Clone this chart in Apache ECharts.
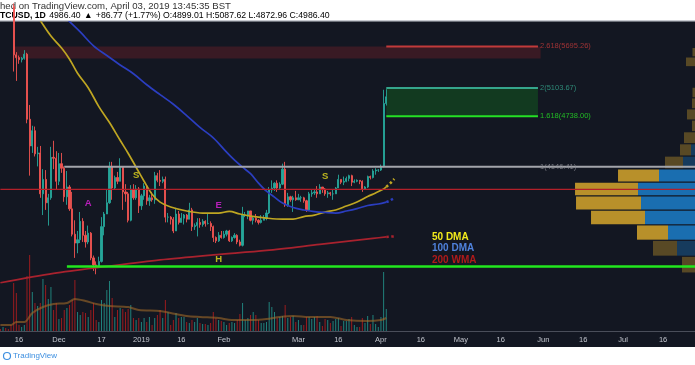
<!DOCTYPE html>
<html><head><meta charset="utf-8">
<script src="https://cdn.jsdelivr.net/npm/echarts@6/dist/echarts.min.js"></script>
<style>html,body{margin:0;padding:0;background:#fff}#c{width:695px;height:365px}</style>
</head><body><div id="c"></div>
<script>
// ---------- DATA ----------
const firstDay = '2018-11-09';
const dayCount = 262; // Nov 9 2018 .. Jul 28 2019
// daily candles from Nov 9 2018: [open, close, low, high]
const ohlc = [
[6410,6350,6310,6440],[6350,6385,6340,6400],[6385,6370,6330,6400],[6370,6360,6330,6410],[6360,6330,6300,6380],
[6330,5570,5330,6380],[5570,5530,5200,5610],[5530,5500,5440,5560],[5500,5520,5460,5540],[5520,5580,5500,5640],
[5580,4700,4650,5600],[4700,4380,4050,4880],[4380,4560,4300,4620],[4560,4290,4260,4610],[4290,4300,4150,4370],
[4300,3860,3820,4380],[3860,4010,3650,4120],[4010,3770,3700,4110],[3770,3820,3550,3860],[3820,4250,3800,4370],
[4250,4240,4120,4440],[4240,3990,3900,4320],[3990,4180,3950,4300],[4180,4130,4080,4300],[4130,3830,3780,4150],
[3830,3930,3750,4100],[3930,3710,3690,3950],[3710,3470,3450,3880],[3470,3390,3260,3600],[3390,3420,3300,3500],
[3420,3590,3390,3680],[3590,3460,3400,3620],[3460,3400,3350,3500],[3400,3480,3380,3550],[3480,3260,3240,3490],
[3260,3200,3150,3280],[3200,3180,3122,3230],[3180,3230,3180,3270],[3230,3540,3220,3630],[3540,3660,3460,3680],
[3660,3770,3660,3900],[3770,4150,3760,4200],[4150,3920,3800,4200],[3920,4030,3900,4050],[4030,3990,3960,4090],
[3990,4140,3990,4240],[4140,3880,3700,4140],[3880,3860,3780,3960],[3860,3600,3580,3880],[3600,3900,3590,3950],
[3900,3820,3800,3960],[3820,3910,3800,3950],[3910,3740,3670,3930],[3740,3840,3700,3860],[3840,3940,3800,3970],
[3940,3790,3750,3950],[3790,3820,3740,3850],[3820,3800,3780,3880],[3800,4050,3760,4090],[4050,4000,3980,4080],
[4000,3990,3940,4110],[3990,4010,3970,4040],[4010,3630,3580,4040],[3630,3630,3580,3670],[3630,3610,3560,3640],
[3610,3500,3480,3630],[3500,3660,3500,3720],[3660,3580,3560,3690],[3580,3620,3580,3670],[3620,3650,3560,3660],
[3650,3610,3580,3660],[3610,3700,3610,3770],[3700,3540,3500,3720],[3540,3550,3510,3570],[3550,3580,3450,3620],
[3580,3560,3530,3620],[3560,3590,3540,3610],[3590,3570,3540,3600],[3570,3570,3560,3660],[3570,3540,3500,3590],
[3540,3440,3400,3550],[3440,3410,3390,3450],[3410,3460,3400,3490],[3460,3440,3430,3500],[3440,3470,3430,3500],
[3470,3500,3450,3510],[3500,3410,3400,3510],[3410,3440,3400,3450],[3440,3460,3430,3480],[3460,3400,3380,3470],
[3400,3370,3360,3420],[3370,3650,3360,3730],[3650,3650,3630,3680],[3650,3690,3610,3690],[3690,3600,3590,3690],
[3600,3620,3560,3640],[3620,3600,3580,3660],[3600,3580,3560,3610],[3580,3600,3570,3650],[3600,3620,3600,3650],
[3620,3670,3600,3700],[3670,3900,3660,3930],[3900,3920,3870,4000],[3920,3970,3890,3980],[3970,3920,3880,4000],
[3920,3960,3910,3980],[3960,4120,3950,4180],[4120,3750,3730,4200],[3750,3830,3730,3870],[3830,3800,3780,3840],
[3800,3820,3680,3840],[3820,3800,3790,3890],[3800,3820,3800,3860],[3820,3820,3780,3840],[3820,3790,3770,3830],
[3790,3700,3680,3800],[3700,3860,3690,3880],[3860,3870,3830,3900],[3870,3880,3850,3910],[3880,3860,3820,3940],
[3860,3930,3860,3960],[3930,3910,3870,3930],[3910,3860,3840,3920],[3860,3870,3820,3890],[3870,3860,3840,3880],
[3860,3860,3800,3900],[3860,3920,3860,3930],[3920,4010,3920,4060],[4010,3980,3960,4010],[3980,3990,3950,4040],
[3990,4020,3980,4040],[4020,4050,3990,4060],[4050,3980,3940,4060],[3980,3990,3970,4010],[3990,4000,3980,4010],
[4000,3990,3960,4000],[3990,3910,3880,4000],[3910,3930,3900,3940],[3930,4040,3920,4050],[4040,4030,4010,4050],
[4030,4100,4020,4120],[4100,4110,4060,4130],[4110,4110,4090,4120],[4110,4150,4100,4170],[4150,4900,4140,5080],
[4899.01,4986.40,4872.96,5087.62]
];
// daily volume (thousands), same days as ohlc
const volume = [2,4,3,2,6,48,38,6,4,6,55,76,39,28,25,28,52,46,32,44,21,28,12,13,21,23,26,31,51,19,16,19,18,14,21,28,11,9,31,28,41,50,33,14,21,23,22,19,22,26,13,11,13,9,13,9,14,6,13,16,21,13,31,19,6,11,18,13,14,14,9,8,11,9,13,8,7,7,6,8,19,13,11,10,9,6,8,9,8,11,17,28,11,13,16,19,16,11,8,8,9,29,24,19,13,14,15,26,13,14,15,9,11,6,6,14,14,12,14,15,9,5,12,11,8,10,12,13,5,10,10,12,14,6,4,4,13,8,15,7,16,7,4,14,59,22];
const volumeMA = [[0,6],[4,6],[6,9],[9,9],[12,18],[16,24],[20,27],[25,28],[28,32],[32,30],[36,27],[41,25],[48,24],[52,21],[60,20],[64,18],[70,15],[75,14],[82,13],[87,11],[95,11],[100,12],[105,14],[110,15],[116,14],[124,14],[130,11],[138,10],[143,11],[145,13]];
const ma50 = [['2018-11-18',6420],['2018-11-21',6294],['2018-11-24',6098],['2018-11-28',5854],['2018-12-02',5672],['2018-12-05',5507],['2018-12-08',5307],['2018-12-12',5108],['2018-12-16',4859],['2018-12-20',4659],['2018-12-24',4446],['2018-12-27',4297],['2018-12-30',4141],['2019-01-02',3991],['2019-01-05',3857],['2019-01-08',3777],['2019-01-12',3728],['2019-01-18',3689],['2019-01-24',3669],['2019-01-30',3669],['2019-02-03',3685],['2019-02-07',3660],['2019-02-11',3640],['2019-02-17',3621],['2019-02-23',3611],['2019-02-27',3611],['2019-03-03',3635],['2019-03-07',3650],['2019-03-11',3679],['2019-03-15',3699],['2019-03-19',3738],['2019-03-23',3777],['2019-03-27',3833],['2019-03-30',3869],['2019-04-02',3910],['2019-04-03',3931]];
const ma50Proj = [['2019-04-03',3931],['2019-04-04',3957],['2019-04-05',3983],['2019-04-06',4015]];
const ma100 = [['2018-11-27',6420],['2018-12-01',6252],['2018-12-05',6080],['2018-12-09',5917],['2018-12-14',5705],['2018-12-19',5561],['2018-12-24',5424],['2018-12-29',5300],['2019-01-03',5148],['2019-01-08',5015],['2019-01-13',4890],['2019-01-18',4746],['2019-01-23',4599],['2019-01-28',4475],['2019-02-02',4309],['2019-02-05',4218],['2019-02-08',4141],['2019-02-11',4071],['2019-02-14',3971],['2019-02-17',3887],['2019-02-20',3827],['2019-02-23',3767],['2019-02-27',3723],['2019-03-03',3699],['2019-03-07',3684],['2019-03-11',3675],['2019-03-15',3669],['2019-03-19',3689],['2019-03-23',3713],['2019-03-27',3743],['2019-03-31',3758],['2019-04-03',3777]];
const ma100Proj = [['2019-04-03',3777],['2019-04-04',3787],['2019-04-06',3817]];
const wma200 = [['2018-11-09',3053],['2018-11-29',3130],['2018-12-19',3188],['2019-01-08',3243],['2019-01-28',3286],['2019-02-17',3325],['2019-03-09',3378],['2019-03-29',3432],['2019-04-03',3445]];
const wma200Proj = [['2019-04-03',3445],['2019-04-06',3450]];
// horizontal levels [from, to, price]
const resistanceLevel = ['2018-11-09','2019-07-28',3906];
const supportLevel = ['2018-12-04','2019-07-28',3187];
const fibStart = '2019-04-03', fibEnd = '2019-05-30';
const fibLevels = [['2.618',5695.26,'#c23a3a'],['2',5103.67,'#35a58c'],['1.618',4738.00,'#25e025'],['1',4146.41,'#8d8f96']];
const redZone = ['2018-11-14','2019-05-31',5695.26,5518];
const greenZone = ['2019-04-03','2019-05-30',5103.67,4738.00];
// volume profile rows [priceLow, priceHigh, totalVol, upVol, inValueArea]
const profile = [
[3132,3274,13,0,0],[3274,3415,42,18,0],[3415,3557,58,27,1],[3557,3698,104,50,1],[3698,3840,119,54,1],
[3840,3982,120,57,1],[3982,4123,77,36,1],[4123,4265,30,12,0],[4265,4406,15,4,0],[4406,4548,11,0,0],
[4548,4690,3,0,0],[4690,4831,8,0,0],[4831,4973,3,0,0],[4973,5115,2.5,0,0],[5398,5540,9,0,0],[5540,5681,2.5,0,0]
];
const annotations = [['2018-12-12',3767,'A','#e020e0'],['2018-12-30',4054,'S','#e6dc1e'],['2019-01-30',3747,'E','#e020e0'],['2019-01-30',3243,'H','#e6dc1e'],['2019-03-11',4047,'S','#e6dc1e']];
const tickLabels = {'2018-11-16':'16','2018-12-01':'Dec','2018-12-17':'17','2019-01-01':'2019','2019-01-16':'16','2019-02-01':'Feb','2019-03-01':'Mar','2019-03-16':'16','2019-04-01':'Apr','2019-04-16':'16','2019-05-01':'May','2019-05-16':'16','2019-06-01':'Jun','2019-06-16':'16','2019-07-01':'Jul','2019-07-16':'16'};
const legendItems = [['50 DMA','#f2ea1c'],['100 DMA','#4f82dc'],['200 WMA','#b01a1a']];
const headerLine1 = 'hed on TradingView.com, April 03, 2019 13:45:35 BST';
const quote = {sym:'TCUSD, 1D', last:'4986.40', chg:'+86.77 (+1.77%)', o:'4899.01', h:'5087.62', l:'4872.96', c:'4986.40'};

// ---------- BUILD ----------
const days = [];
{ const t0 = Date.parse(firstDay + 'T00:00:00Z');
  for (let i = 0; i < dayCount; i++) days.push(new Date(t0 + i * 864e5).toISOString().slice(0, 10)); }
const UP = '#26a69a', DOWN = '#ef5350';
const volData = volume.map((v, i) => ({value: v, itemStyle: {color: ohlc[i][1] >= ohlc[i][0] ? 'rgba(38,166,154,0.75)' : 'rgba(200,30,30,0.75)'}}));
const FONT = 'Liberation Sans, Arial, sans-serif';

function hline(a, b, p, color, width, z) {
  return {type: 'line', data: [[a, p], [b, p]], symbol: 'none', silent: true, z: z || 4,
    lineStyle: {color: color, width: width}, animation: false};
}

const series = [
  {type: 'bar', xAxisIndex: 0, yAxisIndex: 1, data: volData, barWidth: 1, silent: true, z: 1},
  {type: 'line', xAxisIndex: 0, yAxisIndex: 1, data: volumeMA.map(d => [days[d[0]], d[1]]), symbol: 'none', smooth: 0.3,
    lineStyle: {color: 'rgba(160,105,40,0.6)', width: 2}, silent: true, z: 1},
  {type: 'line', data: [], markArea: {silent: true, data: [
      [{coord: [redZone[0], redZone[2]], itemStyle: {color: '#391a24'}}, {coord: [redZone[1], redZone[3]]}],
      [{coord: [greenZone[0], greenZone[2]], itemStyle: {color: '#123a20'}}, {coord: [greenZone[1], greenZone[3]]}]
    ]}, z: 0},
  {type: 'custom', xAxisIndex: 1, yAxisIndex: 0, data: profile, silent: true, z: 2,
    renderItem: function (params, api) {
      const lo = api.value(0), hi = api.value(1), tot = api.value(2), up = api.value(3), va = api.value(4);
      const a = api.coord([0, hi]), b = api.coord([tot, lo]), c = api.coord([up, lo]);
      const y0 = a[1] + 0.6, h = b[1] - a[1] - 1.2, op = va ? 1 : 0.42;
      return {type: 'group', children: [
        {type: 'rect', shape: {x: b[0], y: y0, width: c[0] - b[0], height: h}, style: {fill: '#b8902a', opacity: op}},
        {type: 'rect', shape: {x: c[0], y: y0, width: a[0] - c[0], height: h}, style: {fill: '#1a6eb0', opacity: op}}
      ]};
    }},
  {type: 'candlestick', data: ohlc, barWidth: 1.7, silent: true, z: 3,
    itemStyle: {color: UP, color0: DOWN, borderColor: UP, borderColor0: DOWN, borderWidth: 0.9}},
  {type: 'line', data: ma50, symbol: 'none', smooth: 0.35, lineStyle: {color: '#bfa622', width: 1.7}, silent: true, z: 4},
  {type: 'line', data: ma50Proj, symbol: 'none', lineStyle: {color: '#bfa622', width: 2.5, type: 'dotted'}, silent: true, z: 4},
  {type: 'line', data: ma100, symbol: 'none', smooth: 0.35, lineStyle: {color: '#2b3ec0', width: 1.7}, silent: true, z: 4},
  {type: 'line', data: ma100Proj, symbol: 'none', lineStyle: {color: '#2b3ec0', width: 2.5, type: 'dotted'}, silent: true, z: 4},
  {type: 'line', data: wma200, symbol: 'none', smooth: 0.3, lineStyle: {color: '#a8222e', width: 1.7}, silent: true, z: 4},
  {type: 'line', data: wma200Proj, symbol: 'none', lineStyle: {color: '#a8222e', width: 2.5, type: 'dotted'}, silent: true, z: 4},
  hline(resistanceLevel[0], resistanceLevel[1], resistanceLevel[2], '#b3202a', 1.3),
  hline(supportLevel[0], supportLevel[1], supportLevel[2], '#22e81e', 2.6),
  hline('2018-12-03', '2019-07-28', fibLevels[3][1], '#a3a5ab', 2),
  hline(fibStart, fibEnd, fibLevels[0][1], fibLevels[0][2], 2),
  hline(fibStart, fibEnd, fibLevels[1][1], fibLevels[1][2], 2),
  hline(fibStart, fibEnd, fibLevels[2][1], fibLevels[2][2], 2),
  {type: 'scatter', symbolSize: 0, silent: true, z: 6,
    data: fibLevels.map(f => ({value: [fibEnd, f[1]], label: {color: f[2]}, name: f[0] + '(' + f[1].toFixed(2) + ')'})),
    label: {show: true, position: 'right', distance: 2, formatter: p => p.name, fontSize: 7.5, fontFamily: FONT}},
  {type: 'scatter', symbolSize: 0, silent: true, z: 6,
    data: annotations.map(a => ({value: [a[0], a[1]], name: a[2], label: {color: a[3]}})),
    label: {show: true, position: 'inside', formatter: p => p.name, fontSize: 9.5, fontWeight: 'bold', fontFamily: FONT}}
];

const richHdr = {
  k: {color: '#222', fontSize: 8.7, fontFamily: FONT},
  b: {color: '#111', fontSize: 8.7, fontWeight: 'bold', fontFamily: FONT},
  g: {color: '#3aae4a', fontSize: 8.7, fontFamily: FONT}
};
const line2 = '{b|' + quote.sym + '} {k|' + quote.last + '} {g|▲} {k|' + quote.chg + ' O:}{g|' + quote.o + '}{k| H:}{g|' + quote.h +
  '}{k| L:}{g|' + quote.l + '}{k| C:}{g|' + quote.c + '}';

const graphics = [
  {type: 'rect', shape: {x: 0, y: 21, width: 695, height: 326}, style: {fill: '#131722'}, z: -10, silent: true},
  {type: 'rect', shape: {x: 0, y: 20, width: 695, height: 1.5}, style: {fill: '#c8cbd2'}, z: -9, silent: true},
  {type: 'text', x: 0, y: 6.5, style: {text: headerLine1, fill: '#333', fontSize: 9.6, fontFamily: FONT, verticalAlign: 'middle'}, silent: true},
  {type: 'text', x: 0, y: 15.5, style: {text: line2, rich: richHdr, verticalAlign: 'middle'}, silent: true},
  {type: 'text', x: 13, y: 356, style: {text: 'TradingView', fill: '#3d8fe0', fontSize: 8, fontFamily: FONT, verticalAlign: 'middle'}, silent: true},
  {type: 'circle', shape: {cx: 7, cy: 356, r: 3.5}, style: {fill: 'none', stroke: '#3d8fe0', lineWidth: 1.2}, silent: true}
];
legendItems.forEach((l, i) => graphics.push({type: 'text', x: 432, y: 237 + i * 11.7,
  style: {text: l[0], fill: l[1], fontSize: 10, fontWeight: 'bold', fontFamily: FONT, verticalAlign: 'middle'}, silent: true, z: 10}));

const chart = echarts.init(document.getElementById('c'), null, {renderer: 'canvas'});
chart.setOption({
  animation: false,
  backgroundColor: '#ffffff',
  grid: {left: 0.37, top: 22, width: 694.78, height: 309, containLabel: false},
  xAxis: [
    {type: 'category', data: days, boundaryGap: false,
      axisLine: {show: true, lineStyle: {color: '#4a4e5a', width: 1}}, axisTick: {show: false}, splitLine: {show: false},
      axisLabel: {interval: (i, v) => v in tickLabels, formatter: v => tickLabels[v] || '', color: '#c3c6ce',
        fontSize: 7.5, fontFamily: FONT, margin: 4.5, hideOverlap: false}},
    {type: 'value', inverse: true, min: 0, max: 694.78, show: false}
  ],
  yAxis: [
    {type: 'log', logBase: 10, min: 2688, max: 6074.5, show: false, splitLine: {show: false}},
    {type: 'value', min: 0, max: 309, show: false, splitLine: {show: false}}
  ],
  graphic: graphics,
  series: series
});
</script></body></html>
